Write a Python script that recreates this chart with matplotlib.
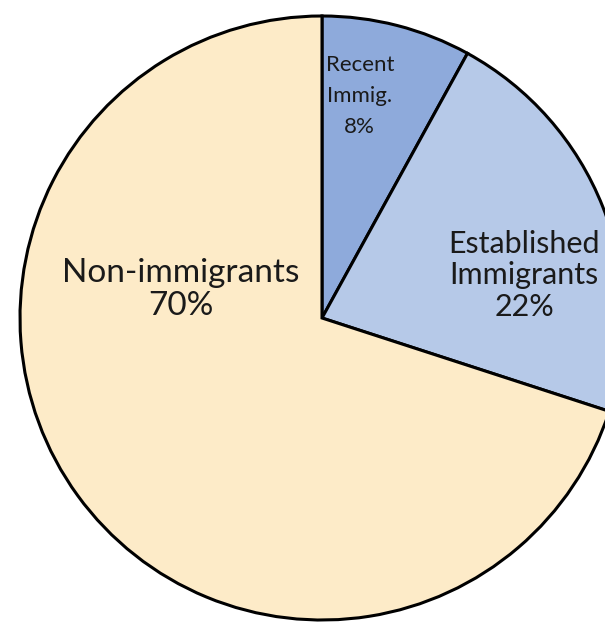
import matplotlib.pyplot as plt

# shares of population
labels = ["Recent\nImmig.", "Established\nImmigrants", "Non-immigrants"]
shares = [8, 22, 70]
colors = ["#8eaadb", "#b6c9e8", "#fdebc8"]

plt.rcParams['font.family'] = ['Lato', 'DejaVu Sans']

fig = plt.figure(figsize=(6.05, 6.24), dpi=100)
# square axes so the pie is centered like the original (right edge runs off)
cx, cy, r = 322, 318, 302
ax = fig.add_axes([(cx - r) / 605, (624 - cy - r) / 624, 2 * r / 605, 2 * r / 624])

wedges, _ = ax.pie(shares, colors=colors, startangle=90, counterclock=False,
                   radius=1.0, wedgeprops=dict(edgecolor='black', linewidth=2.2))
ax.set_xlim(-1, 1)
ax.set_ylim(-1, 1)
ax.set_aspect('equal')
ax.axis('off')

# label spots (x, y) in pie units, font sizes, line spacing
spots = [(0.125, 0.735), (0.67, 0.142), (-0.467, 0.095)]
sizes = [16, 22, 24]
spacing = [1.7, 1.15, 1.15]
for lab, val, (x, y), fs, ls in zip(labels, shares, spots, sizes, spacing):
    ax.text(x, y, f"{lab}\n{val}%", ha='center', va='center', fontsize=fs,
            color='#1a1a1a', linespacing=ls)

fig.savefig("out.png", dpi=100)
